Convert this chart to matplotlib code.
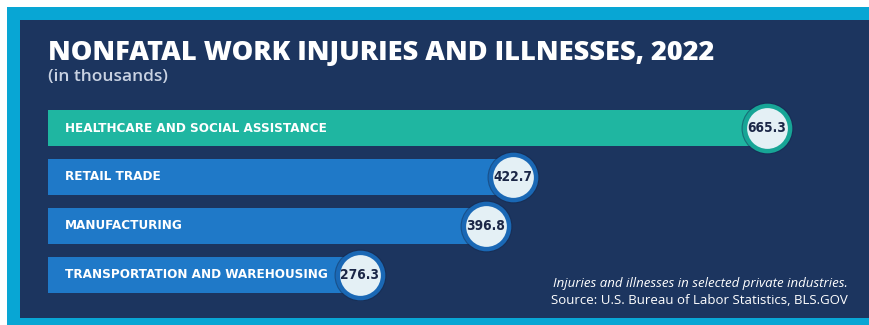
import matplotlib
matplotlib.use('agg')
import matplotlib.pyplot as plt
from matplotlib.patches import Rectangle

# data
industries = ["HEALTHCARE AND SOCIAL ASSISTANCE", "RETAIL TRADE",
              "MANUFACTURING", "TRANSPORTATION AND WAREHOUSING"]
cases = [665.3, 422.7, 396.8, 276.3]
title = "NONFATAL WORK INJURIES AND ILLNESSES, 2022"
subtitle = "(in thousands)"
note1 = "Injuries and illnesses in selected private industries."
note2 = "Source: U.S. Bureau of Labor Statistics, BLS.GOV"

W, H = 870, 325
navy = '#1c355f'
cyan = '#08a6d4'
teal = '#1fb6a1'
teal_ring = '#17a596'
blue = '#1f79c8'
blue_ring = '#1a68b5'

fig = plt.figure(figsize=(W / 100, H / 100), dpi=100)
fig.patch.set_facecolor('white')

def px(x, y, w, h):
    # pixel box (from top-left) -> figure fraction
    return [x / W, 1 - (y + h) / H, w / W, h / H]

# frame: cyan border and navy panel
fig.patches.append(Rectangle((7 / W, 0), 1 - 7 / W, 1 - 7 / H, transform=fig.transFigure,
                             facecolor=cyan, edgecolor='none', zorder=-10))
fig.patches.append(Rectangle((20 / W, 7 / H), 1 - 20 / W, 1 - 27 / H, transform=fig.transFigure,
                             facecolor=navy, edgecolor='none', zorder=-9))

fig.text(48 / W, 1 - 60 / H, title, fontsize=19.5, fontweight=800, color='white',
         family='Open Sans', va='baseline', ha='left')
fig.text(48 / W, 1 - 81 / H, subtitle, fontsize=12.5, fontweight='semibold', color='#c9d2e2',
         family='Open Sans', va='baseline', ha='left')

ax = fig.add_axes(px(48, 100, W - 48, 200))
ax.set_facecolor('none')
ax.set_xlim(-22, 764)
ax.set_ylim(3.517, -0.573)
ax.axis('off')

x0 = ax.get_xlim()[0]
ys = range(len(cases))
colors = [teal] + [blue] * (len(cases) - 1)
rings = [teal_ring] + [blue_ring] * (len(cases) - 1)

ax.barh(ys, [v - x0 for v in cases], left=x0, height=0.74, color=colors, zorder=1)

for i, (name, v) in enumerate(zip(industries, cases)):
    ax.annotate(name, xy=(x0, i), xytext=(12.5, 0), textcoords='offset points',
                ha='left', va='center', color='white', fontsize=9.6, fontweight='bold',
                family='DejaVu Sans', fontstretch='condensed', zorder=3)
    ax.scatter([v], [i], s=1400, color='#132a50', alpha=0.5, zorder=2, linewidths=0)
    ax.scatter([v], [i], s=1060, facecolor='#e4f0f5', edgecolor=rings[i], linewidths=3.2, zorder=3)
    ax.text(v, i, f"{v:.1f}", ha='center', va='center', fontsize=9.8, fontweight='bold',
            color='#1b2747', family='DejaVu Sans', fontstretch='condensed', zorder=4)

fig.text(848 / W, 1 - 287 / H, note1, fontsize=9.5, style='italic', color='white',
         family='Open Sans', ha='right', va='baseline')
fig.text(848 / W, 1 - 304 / H, note2, fontsize=9.5, color='white',
         family='Open Sans', ha='right', va='baseline')

fig.savefig('out.png', dpi=100, facecolor=fig.get_facecolor())
